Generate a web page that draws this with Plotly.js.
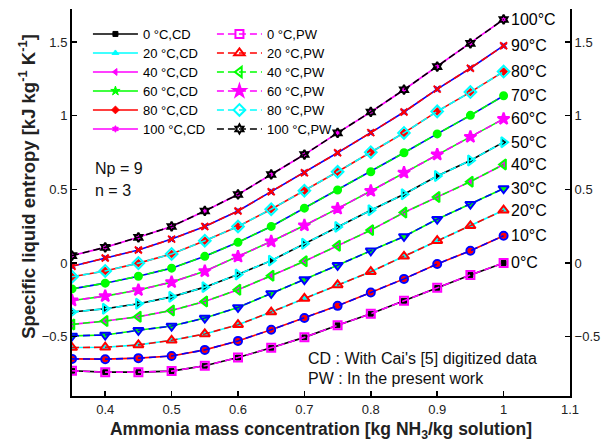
<!DOCTYPE html>
<html>
<head>
<meta charset="utf-8">
<script src="https://cdn.plot.ly/plotly-3.0.1.min.js"></script>
<style>html,body{margin:0;padding:0;background:#fff;}#chart{width:606px;height:447px;}</style>
</head>
<body>
<div id="chart"></div>
<script>
// Ammonia mass concentration (x)
const xConc = [0.35, 0.40, 0.45, 0.50, 0.55, 0.60, 0.65, 0.70, 0.75, 0.80, 0.85, 0.90, 0.95, 1.00];
// Temperatures (°C)
const temps = [0, 10, 20, 30, 40, 50, 60, 70, 80, 90, 100];
// Specific liquid entropy [kJ kg-1 K-1], one array per temperature
const s0   = [-0.732, -0.741, -0.741, -0.734, -0.698, -0.642, -0.576, -0.505, -0.423, -0.345, -0.257, -0.169, -0.081, 0.000];
const s10  = [-0.651, -0.653, -0.646, -0.631, -0.590, -0.529, -0.453, -0.374, -0.291, -0.200, -0.108, -0.007, 0.083, 0.185];
const s20  = [-0.574, -0.572, -0.556, -0.525, -0.482, -0.419, -0.333, -0.241, -0.149, -0.059, 0.045, 0.151, 0.252, 0.358];
const s30  = [-0.495, -0.489, -0.457, -0.428, -0.374, -0.302, -0.207, -0.113, -0.016, 0.083, 0.180, 0.297, 0.399, 0.505];
const s40  = [-0.417, -0.394, -0.365, -0.322, -0.261, -0.182, -0.086, 0.012, 0.117, 0.223, 0.342, 0.448, 0.552, 0.669];
const s50  = [-0.333, -0.311, -0.277, -0.230, -0.164, -0.078, 0.016, 0.130, 0.245, 0.358, 0.466, 0.590, 0.696, 0.820];
const s60  = [-0.255, -0.225, -0.184, -0.130, -0.056, 0.043, 0.146, 0.255, 0.369, 0.489, 0.613, 0.736, 0.856, 0.978];
const s70  = [-0.176, -0.137, -0.090, -0.035, 0.045, 0.140, 0.248, 0.372, 0.495, 0.619, 0.748, 0.876, 1.002, 1.135];
const s80  = [-0.094, -0.054, -0.001, 0.061, 0.151, 0.248, 0.365, 0.491, 0.619, 0.752, 0.883, 1.029, 1.160, 1.299];
const s90  = [-0.022, 0.034, 0.088, 0.162, 0.248, 0.353, 0.484, 0.613, 0.748, 0.885, 1.025, 1.180, 1.322, 1.475];
const s100 = [0.050, 0.106, 0.174, 0.248, 0.353, 0.465, 0.601, 0.736, 0.883, 1.025, 1.176, 1.333, 1.491, 1.653];
const series = [s0, s10, s20, s30, s40, s50, s60, s70, s80, s90, s100];
// Same values for both data sets (CD and PW curves overlap)
const seriesCD = series;
const seriesPW = series;
const curveLabels = temps.map(t => t + '°C');

// styles
const K='#000000', C='#00FFFF', M='#FF00FF', G='#00FF00', R='#FF0000', B='#0000FF';
const styles = [
  {cd:[K,'square',5],        pw:[M,'square-open',8]},
  {cd:[R,'circle',6],        pw:[B,'circle-open',8]},
  {cd:[C,'triangle-up',6],   pw:[R,'triangle-up-open',9]},
  {cd:[G,'triangle-down',6], pw:[B,'triangle-down-open',9]},
  {cd:[M,'triangle-left',6], pw:[G,'triangle-left-open',9]},
  {cd:[K,'triangle-right',5],pw:[C,'triangle-right-open',9]},
  {cd:[G,'star',7],          pw:[M,'star',9]},
  {cd:[B,'circle',4],        pw:[G,'circle',7]},
  {cd:[R,'diamond',6],       pw:[C,'diamond-open',9]},
  {cd:[B,'x',5],             pw:[R,'x-thin-open',7]},
  {cd:[M,'hexagram',5],      pw:[K,'hexagram-open',7]}
];

const legendText = s => '<span style="font-size:13px">' + s + '</span>';

const traces = [];
temps.forEach((t, i) => {
  const st = styles[i].cd;
  traces.push({
    x: xConc, y: seriesCD[i], type: 'scatter', mode: 'lines+markers',
    name: legendText(t + ' °C,CD'), legend: 'legend', showlegend: t % 20 === 0,
    line: {color: st[0], width: 1.6},
    marker: {color: st[0], symbol: st[1], size: st[2], line: {color: st[0], width: 1}},
    hoverinfo: 'x+y+name'
  });
});
temps.forEach((t, i) => {
  const st = styles[i].pw;
  traces.push({
    x: xConc, y: seriesPW[i], type: 'scatter', mode: 'lines+markers',
    name: legendText(t + ' °C,PW'), legend: 'legend2', showlegend: t % 20 === 0,
    line: {color: st[0], width: 1.6, dash: '7px,4px'},
    marker: {color: st[0], symbol: st[1], size: st[2], line: {color: st[0], width: 2}},
    hoverinfo: 'x+y+name'
  });
});
// dummy trace for right axis
traces.push({x: [xConc[0]], y: [series[0][0]], yaxis: 'y2', mode: 'markers', marker: {opacity: 0}, showlegend: false, hoverinfo: 'skip'});

const font = 'Liberation Sans, Arial, sans-serif';
const annotations = temps.map((t, i) => ({
  x: xConc[xConc.length - 1], y: series[i][series[i].length - 1],
  xref: 'x', yref: 'y', text: curveLabels[i], showarrow: false,
  xanchor: 'left', yanchor: 'middle', xshift: 5,
  font: {family: font, size: 16, color: '#000'}
}));
annotations.push(
  {xref: 'paper', yref: 'paper', x: 0.042, y: 0.589, xanchor: 'left', yanchor: 'middle', showarrow: false, text: 'Np = 9', font: {family: font, size: 16, color: '#111'}},
  {xref: 'paper', yref: 'paper', x: 0.042, y: 0.532, xanchor: 'left', yanchor: 'middle', showarrow: false, text: 'n = 3', font: {family: font, size: 16, color: '#111'}},
  {xref: 'paper', yref: 'paper', x: 0.469, y: 0.098, xanchor: 'left', yanchor: 'middle', showarrow: false, text: "CD : With Cai's [5] digitized data", font: {family: font, size: 16, color: '#111'}},
  {xref: 'paper', yref: 'paper', x: 0.469, y: 0.046, xanchor: 'left', yanchor: 'middle', showarrow: false, text: 'PW : In the present work', font: {family: font, size: 16, color: '#111'}},
  {xref: 'paper', yref: 'paper', x: -0.0904, y: 0.543, xanchor: 'center', yanchor: 'middle', showarrow: false, textangle: -90,
   text: '<b>Specific liquid entropy [kJ kg<sup>-1</sup> K<sup>-1</sup>]</b>', font: {family: font, size: 18.5, color: '#222'}}
);

const axisCommon = {
  showgrid: false, zeroline: false, showline: true, linecolor: '#000', linewidth: 2,
  ticks: 'inside', ticklen: 5, tickwidth: 1.5, tickcolor: '#000',
  tickfont: {family: font, size: 13, color: '#222'}
};

const layout = {
  width: 606, height: 447,
  margin: {l: 72, r: 36, t: 9, b: 51},
  paper_bgcolor: '#fff', plot_bgcolor: '#fff',
  font: {family: font, color: '#000'},
  xaxis: Object.assign({}, axisCommon, {
    range: [0.35, 1.1], tick0: 0.4, dtick: 0.1, mirror: false,
    title: {text: 'Ammonia mass concentration [kg NH<sub>3</sub>/kg solution]', font: {family: font, size: 17.5, weight: 'bold', color: '#222'}, standoff: 7}
  }),
  yaxis: Object.assign({}, axisCommon, {
    range: [-0.903, 1.724], tick0: -0.5, dtick: 0.5
  }),
  yaxis2: Object.assign({}, axisCommon, {
    overlaying: 'y', side: 'right', matches: 'y', range: [-0.903, 1.724], tick0: -0.5, dtick: 0.5
  }),
  legend: {x: 0.032, y: 0.973, xanchor: 'left', yanchor: 'top', bgcolor: 'rgba(0,0,0,0)', borderwidth: 0, itemwidth: 45,
           font: {family: font, size: 12, color: '#000'}, tracegroupgap: 0},
  legend2: {x: 0.281, y: 0.973, xanchor: 'left', yanchor: 'top', bgcolor: 'rgba(0,0,0,0)', borderwidth: 0, itemwidth: 45,
           font: {family: font, size: 12, color: '#000'}, tracegroupgap: 0},
  annotations: annotations,
  showlegend: true
};

Plotly.newPlot('chart', traces, layout, {displayModeBar: false, staticPlot: true});
</script>
</body>
</html>
